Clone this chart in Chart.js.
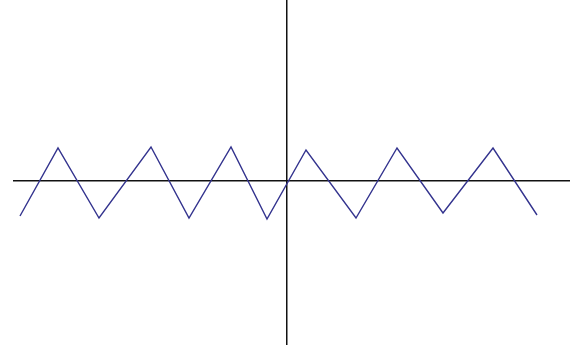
<!DOCTYPE html>
<html>
<head>
<meta charset="utf-8">
<script src="https://cdn.jsdelivr.net/npm/chart.js@4.4.1/dist/chart.umd.min.js"></script>
<style>
  html, body { margin: 0; padding: 0; background: #fff; }
  #wrap { width: 570px; height: 349px; }
</style>
</head>
<body>
<div id="wrap"><canvas id="myChart"></canvas></div>
<script>
// zigzag vertices (x, y), origin at the axis crossing
const xs = [-267, -229, -188, -136, -98, -56, -20, 19, 69, 110, 156, 206, 250];
const ys = [-35, 33, -37, 34, -37, 34, -38, 31, -37, 33, -32, 33, -34];
const xRange = [-274, 283];
const yRange = [-164, 181];

const points = xs.map((x, i) => ({ x: x, y: ys[i] }));

const zeroOnly = (scale) => { scale.ticks = [{ value: 0 }]; };
const axisGrid = {
  color: "#111",
  lineWidth: 1.5,
  drawTicks: false,
};

let myCt = document.getElementById("myChart");
let myChart = new Chart(myCt, {
  type: "scatter",
  data: {
    datasets: [
      {
        data: points,
        showLine: true,
        borderColor: "#33338e",
        borderWidth: 1.4,
        pointRadius: 0,
        tension: 0,
      },
    ],
  },
  options: {
    responsive: true,
    maintainAspectRatio: false,
    animation: false,
    layout: { padding: { left: 13, right: 0, top: 0, bottom: 4 } },
    plugins: {
      legend: { display: false },
      tooltip: { enabled: false },
    },
    scales: {
      x: {
        type: "linear",
        min: xRange[0],
        max: xRange[1],
        afterBuildTicks: zeroOnly,
        ticks: { display: false },
        border: { display: false },
        grid: axisGrid,
      },
      y: {
        type: "linear",
        min: yRange[0],
        max: yRange[1],
        afterBuildTicks: zeroOnly,
        ticks: { display: false },
        border: { display: false },
        grid: axisGrid,
      },
    },
  },
});
</script>
</body>
</html>
